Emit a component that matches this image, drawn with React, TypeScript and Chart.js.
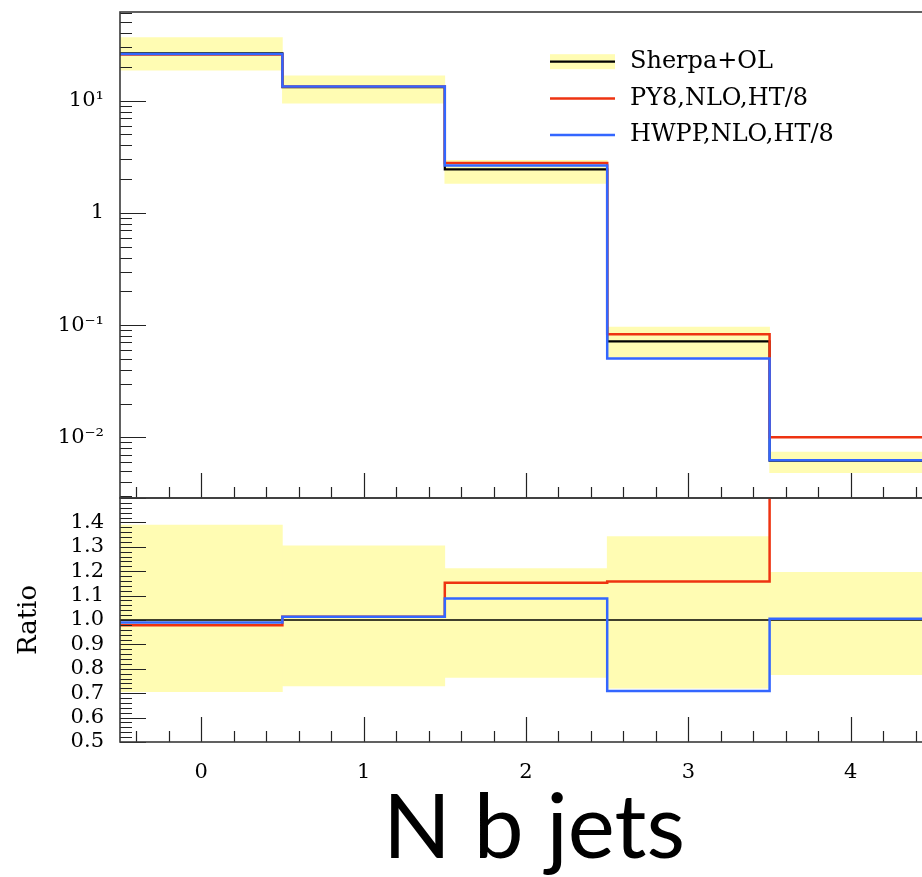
import React, { useEffect, useRef } from 'react';
import { Chart, registerables } from 'chart.js';

Chart.register(...registerables);

// ---------- data ----------
const binEdges = [-0.5, 0.5, 1.5, 2.5, 3.5, 4.5];
const binCenters = [0, 1, 2, 3, 4];

const sherpa = [26.4, 13.2, 2.44, 0.0715, 0.0062];
const sherpaUp = [36.4, 16.6, 2.94, 0.096, 0.0074];
const sherpaDown = [18.7, 9.5, 1.83, 0.0519, 0.00484];
const py8 = [25.8, 13.4, 2.78, 0.083, 0.01];
const hwpp = [26.1, 13.4, 2.64, 0.0505, 0.00625];

const sherpaRatio = [1, 1, 1, 1, 1];
const ratioUp = [1.389, 1.304, 1.211, 1.342, 1.195];
const ratioDown = [0.706, 0.73, 0.765, 0.721, 0.776];
const py8Ratio = [0.978, 1.013, 1.153, 1.158, 1.61];
const hwppRatio = [0.99, 1.013, 1.088, 0.709, 1.005];

const xTickValues = [0, 1, 2, 3, 4];
const xTickLabels = ['0', '1', '2', '3', '4'];
const logTickValues = [0.01, 0.1, 1, 10];
const logTickLabels = ['10\u207B\u00B2', '10\u207B\u00B9', '1', '10\u00B9'];
const ratioTickValues = [0.5, 0.6, 0.7, 0.8, 0.9, 1.0, 1.1, 1.2, 1.3, 1.4];
const ratioTickLabels = ['0.5', '0.6', '0.7', '0.8', '0.9', '1.0', '1.1', '1.2', '1.3', '1.4'];

const legendLabels = ['Sherpa+OL', 'PY8,NLO,HT/8', 'HWPP,NLO,HT/8'];
const xTitle = 'N b jets';
const ratioTitle = 'Ratio';

// ---------- styles ----------
const SERIF = '"DejaVu Serif", "Liberation Serif", serif';
const BAND = '#fffcb3';
const BLACK = '#000000';
const RED = '#ee3311';
const BLUE = '#3366ff';
const AXIS = '#3a3a3a';

const LOG_MIN = 0.002879;
const LOG_MAX = 61.65;

function stepData(values: number[]) {
  return binEdges.map((x, i) => ({ x, y: values[Math.min(i, values.length - 1)] }));
}
function bandData(lo: number[], hi: number[]) {
  return binCenters.map((x, i) => ({ x, y: [lo[i], hi[i]] }));
}

function stepLine(label: string, values: number[], color: string, width: number, order: number) {
  return {
    type: 'line' as const,
    label,
    data: stepData(values),
    borderColor: color,
    backgroundColor: color,
    borderWidth: width,
    pointRadius: 0,
    stepped: 'before' as const,
    fill: false,
    tension: 0,
    order,
  };
}

function bandBars(lo: number[], hi: number[]) {
  return {
    type: 'bar' as const,
    label: 'band',
    data: bandData(lo, hi) as any,
    backgroundColor: BAND,
    borderWidth: 0,
    barPercentage: 1,
    categoryPercentage: 1,
    order: 10,
  };
}

function xTicksDraw(ctx: CanvasRenderingContext2D, xs: any, a: any) {
  for (let i = -2; i <= 22; i++) {
    const v = i * 0.2;
    const x = Math.round(xs.getPixelForValue(v)) + 0.5;
    const len = i % 5 === 0 ? 25 : 11;
    ctx.moveTo(x, a.bottom);
    ctx.lineTo(x, a.bottom - len);
  }
}

const mainDecor = {
  id: 'mainDecor',
  afterDatasetsDraw(chart: any) {
    const { ctx, chartArea: a, scales } = chart;
    const xs = scales.x;
    const ys = scales.y;
    ctx.save();
    ctx.strokeStyle = '#222';
    ctx.lineWidth = 1.2;
    ctx.beginPath();
    for (let e = -3; e <= 1; e++) {
      for (let m = 1; m <= 9; m++) {
        const v = m * Math.pow(10, e);
        if (v < ys.min || v > ys.max) continue;
        const y = Math.round(ys.getPixelForValue(v)) + 0.5;
        const len = m === 1 ? 26 : 12;
        ctx.moveTo(a.left, y);
        ctx.lineTo(a.left + len, y);
      }
    }
    xTicksDraw(ctx, xs, a);
    ctx.stroke();

    ctx.strokeStyle = AXIS;
    ctx.lineWidth = 1.6;
    ctx.strokeRect(a.left, a.top, a.right - a.left, a.bottom - a.top);

    // legend
    const colors = [BLACK, RED, BLUE];
    const x0 = 550;
    const x1 = 615;
    const tx = 630;
    const y0 = 61.7;
    const dy = 36.7;
    ctx.font = '24px ' + SERIF;
    ctx.textAlign = 'left';
    ctx.textBaseline = 'middle';
    legendLabels.forEach((lab, i) => {
      const y = y0 + i * dy;
      if (i === 0) {
        ctx.fillStyle = BAND;
        ctx.fillRect(x0, y - 7.5, x1 - x0, 15);
      }
      ctx.strokeStyle = colors[i];
      ctx.lineWidth = i === 0 ? 2.2 : 2.5;
      ctx.beginPath();
      ctx.moveTo(x0, y);
      ctx.lineTo(x1, y);
      ctx.stroke();
      ctx.fillStyle = '#000';
      ctx.fillText(lab, tx, y);
    });
    ctx.restore();
  },
};

const ratioDecor = {
  id: 'ratioDecor',
  afterDatasetsDraw(chart: any) {
    const { ctx, chartArea: a, scales } = chart;
    const xs = scales.x;
    const ys = scales.y;
    ctx.save();
    ctx.strokeStyle = '#222';
    ctx.lineWidth = 1.2;
    ctx.beginPath();
    for (let i = 25; i <= 75; i++) {
      const v = i * 0.02;
      const y = Math.round(ys.getPixelForValue(v)) + 0.5;
      const len = i % 5 === 0 ? 26 : 12;
      ctx.moveTo(a.left, y);
      ctx.lineTo(a.left + len, y);
    }
    xTicksDraw(ctx, xs, a);
    ctx.stroke();
    ctx.strokeStyle = AXIS;
    ctx.lineWidth = 1.6;
    ctx.strokeRect(a.left, a.top, a.right - a.left, a.bottom - a.top);
    ctx.restore();
  },
};

function fixWidth(w: number) {
  return (scale: any) => {
    scale.width = w;
    scale.paddingTop = 0;
    scale.paddingBottom = 0;
  };
}

const setXTicks = (scale: any) => {
  scale.ticks = xTickValues.map((v) => ({ value: v }));
};

export default function App() {
  const mainRef = useRef<HTMLCanvasElement>(null);
  const ratioRef = useRef<HTMLCanvasElement>(null);

  useEffect(() => {
    if (!mainRef.current || !ratioRef.current) return;

    const main = new Chart(mainRef.current, {
      type: 'line',
      data: {
        datasets: [
          bandBars(sherpaDown, sherpaUp),
          stepLine(legendLabels[0], sherpa, BLACK, 2.2, 3),
          stepLine(legendLabels[1], py8, RED, 2.5, 2),
          stepLine(legendLabels[2], hwpp, BLUE, 2.5, 1),
        ] as any,
      },
      options: {
        responsive: false,
        animation: false,
        layout: { padding: { top: 12, left: 0, right: 0, bottom: 2 } },
        plugins: { legend: { display: false }, tooltip: { enabled: false } },
        scales: {
          x: {
            type: 'linear',
            display: false,
            min: -0.5,
            max: 4.5,
            offset: false,
            afterBuildTicks: setXTicks,
          },
          y: {
            type: 'logarithmic',
            min: LOG_MIN,
            max: LOG_MAX,
            grid: { display: false, drawTicks: false },
            border: { display: false },
            afterBuildTicks: (scale: any) => {
              scale.ticks = logTickValues.map((v) => ({ value: v }));
            },
            afterFit: fixWidth(120),
            ticks: {
              autoSkip: false,
              padding: 16,
              color: '#000',
              font: { family: SERIF, size: 21 },
              callback: (_v: any, i: number) => logTickLabels[i],
            },
          },
        },
      } as any,
      plugins: [mainDecor],
    });

    const ratio = new Chart(ratioRef.current, {
      type: 'line',
      data: {
        datasets: [
          bandBars(ratioDown, ratioUp),
          stepLine(legendLabels[0], sherpaRatio, BLACK, 1.5, 3),
          stepLine(legendLabels[1], py8Ratio, RED, 2.5, 2),
          stepLine(legendLabels[2], hwppRatio, BLUE, 2.5, 1),
        ] as any,
      },
      options: {
        responsive: false,
        animation: false,
        layout: { padding: { top: 8, left: 0, right: 0, bottom: 0 } },
        plugins: { legend: { display: false }, tooltip: { enabled: false } },
        scales: {
          x: {
            type: 'linear',
            min: -0.5,
            max: 4.5,
            offset: false,
            grid: { display: false, drawTicks: false },
            border: { display: false },
            afterBuildTicks: setXTicks,
            afterFit: (scale: any) => {
              scale.height = 58;
              scale.paddingLeft = 0;
              scale.paddingRight = 0;
            },
            ticks: {
              autoSkip: false,
              maxRotation: 0,
              padding: 18,
              color: '#000',
              font: { family: SERIF, size: 21 },
              callback: (_v: any, i: number) => xTickLabels[i],
            },
          },
          y: {
            type: 'linear',
            min: 0.5,
            max: 1.5,
            grid: { display: false, drawTicks: false },
            border: { display: false },
            afterBuildTicks: (scale: any) => {
              scale.ticks = ratioTickValues.map((v) => ({ value: v }));
            },
            afterFit: fixWidth(120),
            title: {
              display: true,
              text: ratioTitle,
              color: '#000',
              font: { family: SERIF, size: 26 },
              padding: { top: 14, bottom: 0 },
            },
            ticks: {
              autoSkip: false,
              padding: 16,
              color: '#000',
              font: { family: SERIF, size: 21 },
              callback: (_v: any, i: number) => ratioTickLabels[i],
            },
          },
        },
      } as any,
      plugins: [ratioDecor],
    });

    return () => {
      main.destroy();
      ratio.destroy();
    };
  }, []);

  return (
    <div
      style={{
        position: 'fixed',
        left: 0,
        top: 0,
        width: 922,
        height: 877,
        overflow: 'hidden',
        background: '#fff',
      }}
    >
      <canvas
        ref={mainRef}
        width={932}
        height={500}
        style={{ position: 'absolute', left: 0, top: 0, width: 932, height: 500 }}
      />
      <canvas
        ref={ratioRef}
        width={932}
        height={310}
        style={{ position: 'absolute', left: 0, top: 490, width: 932, height: 310 }}
      />
      <div
        style={{
          position: 'absolute',
          left: 534,
          top: 779,
          transform: 'translateX(-50%)',
          whiteSpace: 'nowrap',
          fontFamily: 'Lato, "Open Sans", sans-serif',
          fontSize: 89,
          lineHeight: '89px',
          color: '#000',
        }}
      >
        {xTitle}
      </div>
    </div>
  );
}
